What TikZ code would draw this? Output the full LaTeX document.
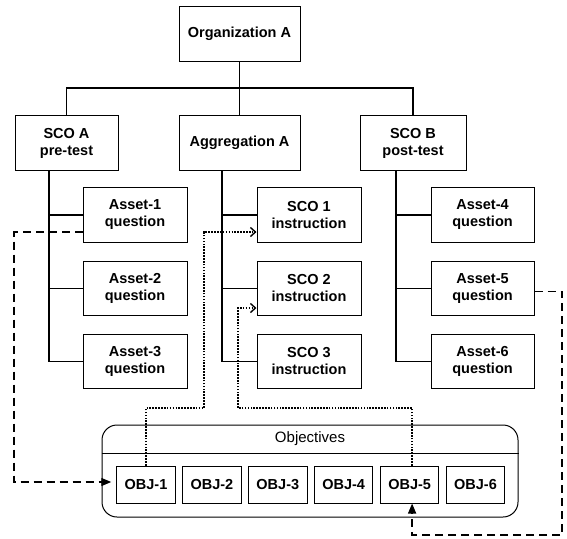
\documentclass[tikz,border=0pt]{standalone}
\usepackage{fontspec}
\setmainfont{Liberation Sans}
\usetikzlibrary{arrows.meta}
\begin{document}
\begin{tikzpicture}[x=1pt,y=-1pt,
  lbl/.style={font=\bfseries\fontsize{14.5}{17}\selectfont, align=center},
  box/.style={lbl, draw, line width=1pt, inner sep=0pt, minimum height=54.5pt},
  objbox/.style={lbl, draw, line width=1pt, inner sep=0pt, minimum width=58.5pt, minimum height=37pt},
  tree/.style={line width=1.5pt},
  dashlink/.style={line width=1.4pt, dash pattern=on 8pt off 5pt, -{Triangle[length=10pt,width=8pt]}},
  dotlink/.style={line width=1.4pt, dash pattern=on 1.6pt off 1.3pt, -{Straight Barb[length=5pt,width=9pt]}}
]
\useasboundingbox (0,0) rectangle (567,538);
\fill[white] (0,0) rectangle (567,538);

% top levels
\node[box, minimum width=121pt] (org) at (239.5,34) {Organization A};
\node[box, minimum width=103pt] (scoa) at (66.5,143) {SCO A\\pre-test};
\node[box, minimum width=121pt] (agg) at (239.5,143) {Aggregation A};
\node[box, minimum width=106pt] (scob) at (413,143) {SCO B\\post-test};

% leaf items
\node[box, minimum width=104pt] (a1) at (135,215) {Asset-1\\question};
\node[box, minimum width=104pt] (a2) at (135,288.5) {Asset-2\\question};
\node[box, minimum width=104pt] (a3) at (135,361.5) {Asset-3\\question};
\node[box, minimum width=104pt] (s1) at (309,215) {SCO 1\\instruction};
\node[box, minimum width=104pt] (s2) at (309,288.5) {SCO 2\\instruction};
\node[box, minimum width=104pt] (s3) at (309,361.5) {SCO 3\\instruction};
\node[box, minimum width=103pt] (a4) at (482.5,215) {Asset-4\\question};
\node[box, minimum width=103pt] (a5) at (482.5,288.5) {Asset-5\\question};
\node[box, minimum width=103pt] (a6) at (482.5,361.5) {Asset-6\\question};

% objectives container
\node[draw, line width=1pt, rounded corners=15pt, minimum width=416pt, minimum height=92pt, inner sep=0pt] (objs) at (310,471) {};
\draw[line width=1pt] (objs.west |- 0,453) -- (objs.east |- 0,453);
\node[font=\fontsize{15}{17}\selectfont] (objtitle) at (310,439) {Objectives};
\foreach \i in {1,...,6}
  \node[objbox] (o\i) at ({146+65.9*(\i-1)},484.5) {OBJ-\i};

% tree connectors
\coordinate (bus) at (0,88);
\draw[tree] (org.south) -- (agg.north);
\draw[tree] (scoa.north) -- (scoa.north |- bus) -- (scob.north |- bus) -- (scob.north);

\coordinate (ta) at (49,0);
\coordinate (tg) at (222,0);
\coordinate (tb) at (396,0);
\draw[tree] (scoa.south -| ta) -- (a3.west -| ta) -- (a3.west);
\draw[tree] (a1.west -| ta) -- (a1.west);
\draw[tree] (a2.west -| ta) -- (a2.west);
\draw[tree] (agg.south -| tg) -- (s3.west -| tg) -- (s3.west);
\draw[tree] (s1.west -| tg) -- (s1.west);
\draw[tree] (s2.west -| tg) -- (s2.west);
\draw[tree] (scob.south -| tb) -- (a6.west -| tb) -- (a6.west);
\draw[tree] (a4.west -| tb) -- (a4.west);
\draw[tree] (a5.west -| tb) -- (a5.west);

% dashed links from questions to objectives
\coordinate (dl) at (14,482);
\draw[dashlink, shorten >=5pt] ([yshift=-17pt]a1.west) -- ([yshift=-17pt]a1.west -| dl) -- (dl) -- (dl -| o1.west);
\coordinate (dr) at (562,535);
\draw[dashlink] ([yshift=-3pt]a5.east) -- ([yshift=-3pt]a5.east -| dr) -- (dr) -- ([xshift=2.5pt]o5.south |- dr) -- ([xshift=2.5pt]o5.south);

% dotted links from objectives to instruction units
\coordinate (dt) at (0,408);
\draw[dotlink] (o1.north) -- (o1.north |- dt) -- (204,408) -- (204,232) -- ([yshift=-17pt]s1.west);
\draw[dotlink] ([xshift=2.5pt]o5.north) -- ([xshift=2.5pt]o5.north |- dt) -- (238,408) -- (238,308) -- ([yshift=-19.5pt]s2.west);
\end{tikzpicture}
\end{document}
